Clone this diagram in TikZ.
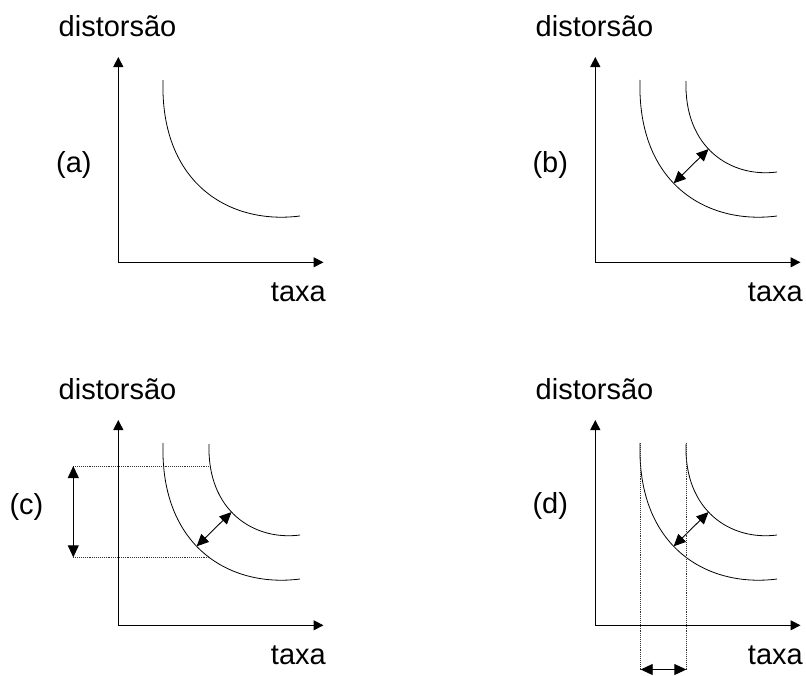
\documentclass[tikz,border=0pt]{standalone}
\usepackage{fontspec}
\setmainfont{Liberation Sans}
\usetikzlibrary{arrows.meta}

\begin{document}
\begin{tikzpicture}[
    x=1pt, y=-1pt,
    rot/.style={font=\fontsize{29}{35}\selectfont, inner sep=0pt},
    eixo/.style={-{Triangle[length=10pt, width=10pt]}, line width=1pt},
    curva/.style={line width=0.8pt},
    guia/.style={densely dotted, line width=0.9pt, black!80},
    seta/.style={{Triangle[length=12pt, width=11pt]}-{Triangle[length=12pt, width=11pt]},
      line width=0.9pt}
  ]
  \useasboundingbox (0,0) rectangle (806,675);
  \foreach \p/\dx/\dy in {a/0/0, b/477/0, c/0/363, d/477/363} {
    \begin{scope}[shift={(\dx,\dy)}]
      \coordinate (o-\p) at (118.3,262.3);
      \coordinate (y-\p) at (118.3,57);
      \coordinate (x-\p) at (323.5,262.3);
      \draw[eixo] (o-\p) -- (y-\p);
      \draw[eixo] (o-\p) -- (x-\p);
      \node[rot, anchor=base west] (dist-\p) at (58.5,36) {distorsão};
      \node[rot, anchor=base east] (taxa-\p) at (326,301.5) {taxa};
      \draw[curva] (163,80) .. controls (160,184) and (230,225) .. (300,216)
        coordinate[pos=0.45] (ci-\p);
    \end{scope}
  }
  \foreach \p/\dx/\dy in {b/477/0, c/0/363, d/477/363} {
    \begin{scope}[shift={(\dx,\dy)}]
      \draw[curva] (209,81) .. controls (207,148) and (254,178) .. (300,172)
        coordinate[pos=0.45] (ce-\p);
      \draw[seta] (ci-\p) -- (ce-\p);
    \end{scope}
  }
  \node[rot, anchor=base west] (rot-a) at (56,172) {(a)};
  \node[rot, anchor=base west] (rot-b) at (532.3,172) {(b)};
  \node[rot, anchor=base west] (rot-c) at (9.3,514.5) {(c)};
  \node[rot, anchor=base west] (rot-d) at (532.3,513.5) {(d)};

  \coordinate (c-sup) at (73.3,466);
  \coordinate (c-inf) at (73.3,557.3);
  \coordinate (c-sup-f) at (209.3,466);
  \coordinate (c-inf-f) at (209.3,557.3);
  \draw[guia] (c-sup) -- (c-sup-f);
  \draw[guia] (c-inf) -- (c-inf-f);
  \draw[seta] (c-sup) -- (c-inf);

  \coordinate (d-esq) at (640.7,443.3);
  \coordinate (d-dir) at (686.3,443.3);
  \coordinate (d-esq-f) at (640.7,669.5);
  \coordinate (d-dir-f) at (686.3,669.5);
  \draw[guia] (d-esq) -- (d-esq-f);
  \draw[guia] (d-dir) -- (d-dir-f);
  \draw[seta] (d-esq-f) -- (d-dir-f);
\end{tikzpicture}
\end{document}
